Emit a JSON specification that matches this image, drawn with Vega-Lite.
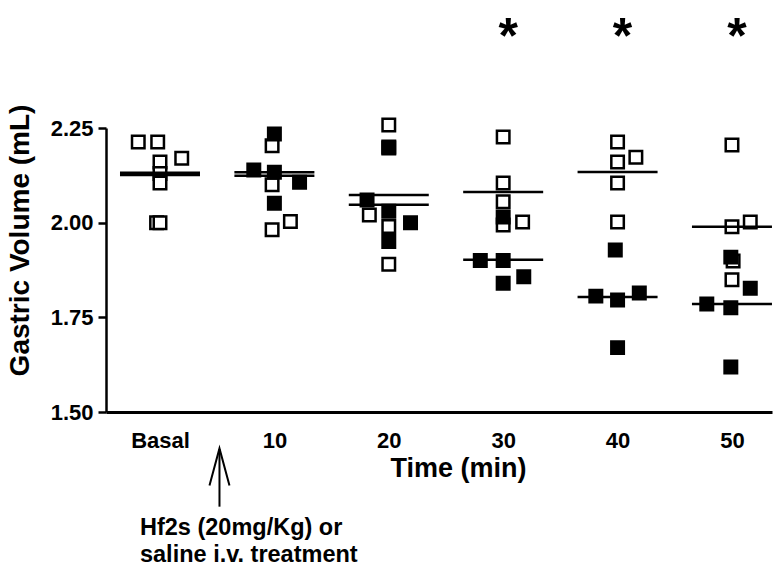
{
  "$schema": "https://vega.github.io/schema/vega-lite/v6.json",
  "width": 666,
  "height": 284,
  "autosize": {"type": "none"},
  "padding": {"left": 106, "top": 128, "right": 4, "bottom": 164},
  "background": "white",
  "config": {
    "view": {"stroke": null},
    "font": "Liberation Sans",
    "axis": {"labelFont": "Liberation Sans", "titleFont": "Liberation Sans", "labelColor": "black", "titleColor": "black", "domainColor": "black", "tickColor": "black", "grid": false}
  },
  "datasets": {
    "pts": [
      {"t": -1.9, "v": 2.213, "g": "open"},
      {"t": -0.2, "v": 2.213, "g": "open"},
      {"t": 0, "v": 2.16, "g": "open"},
      {"t": 1.9, "v": 2.17, "g": "open"},
      {"t": 0, "v": 2.13, "g": "open"},
      {"t": 0, "v": 2.105, "g": "open"},
      {"t": -0.3, "v": 2.0, "g": "open"},
      {"t": 0, "v": 2.0, "g": "open"},
      {"t": 9.8, "v": 2.203, "g": "open"},
      {"t": 9.8, "v": 2.1, "g": "open"},
      {"t": 11.4, "v": 2.003, "g": "open"},
      {"t": 9.8, "v": 1.981, "g": "open"},
      {"t": 20, "v": 2.258, "g": "open"},
      {"t": 20, "v": 2.2, "g": "open"},
      {"t": 18.3, "v": 2.02, "g": "open"},
      {"t": 20, "v": 1.99, "g": "open"},
      {"t": 20, "v": 1.89, "g": "open"},
      {"t": 30, "v": 2.226, "g": "open"},
      {"t": 30, "v": 2.105, "g": "open"},
      {"t": 30, "v": 2.055, "g": "open"},
      {"t": 31.7, "v": 2.002, "g": "open"},
      {"t": 30, "v": 1.994, "g": "open"},
      {"t": 40, "v": 2.213, "g": "open"},
      {"t": 40, "v": 2.16, "g": "open"},
      {"t": 41.6, "v": 2.173, "g": "open"},
      {"t": 40, "v": 2.105, "g": "open"},
      {"t": 40, "v": 2.002, "g": "open"},
      {"t": 50, "v": 2.205, "g": "open"},
      {"t": 50, "v": 1.989, "g": "open"},
      {"t": 51.6, "v": 2.002, "g": "open"},
      {"t": 50.1, "v": 1.899, "g": "open"},
      {"t": 50, "v": 1.849, "g": "open"},
      {"t": 10, "v": 2.234, "g": "filled"},
      {"t": 8.2, "v": 2.139, "g": "filled"},
      {"t": 10, "v": 2.133, "g": "filled"},
      {"t": 12.2, "v": 2.107, "g": "filled"},
      {"t": 10, "v": 2.051, "g": "filled"},
      {"t": 20, "v": 2.197, "g": "filled"},
      {"t": 18.1, "v": 2.06, "g": "filled"},
      {"t": 20, "v": 2.03, "g": "filled"},
      {"t": 21.9, "v": 2.0, "g": "filled"},
      {"t": 20, "v": 1.95, "g": "filled"},
      {"t": 30, "v": 2.015, "g": "filled"},
      {"t": 28.0, "v": 1.9, "g": "filled"},
      {"t": 30, "v": 1.9, "g": "filled"},
      {"t": 31.8, "v": 1.857, "g": "filled"},
      {"t": 30, "v": 1.84, "g": "filled"},
      {"t": 39.8, "v": 1.928, "g": "filled"},
      {"t": 38.1, "v": 1.806, "g": "filled"},
      {"t": 40, "v": 1.796, "g": "filled"},
      {"t": 41.9, "v": 1.814, "g": "filled"},
      {"t": 40, "v": 1.67, "g": "filled"},
      {"t": 49.9, "v": 1.909, "g": "filled"},
      {"t": 51.6, "v": 1.827, "g": "filled"},
      {"t": 47.8, "v": 1.785, "g": "filled"},
      {"t": 49.9, "v": 1.775, "g": "filled"},
      {"t": 49.9, "v": 1.619, "g": "filled"}
    ],
    "means": [
      {"t": 0, "v": 2.132, "g": "open"},
      {"t": 0, "v": 2.126, "g": "filled"},
      {"t": 10, "v": 2.124, "g": "open"},
      {"t": 10, "v": 2.133, "g": "filled"},
      {"t": 20, "v": 2.073, "g": "open"},
      {"t": 20, "v": 2.047, "g": "filled"},
      {"t": 30, "v": 2.081, "g": "open"},
      {"t": 30, "v": 1.902, "g": "filled"},
      {"t": 40, "v": 2.134, "g": "open"},
      {"t": 40, "v": 1.804, "g": "filled"},
      {"t": 50, "v": 1.989, "g": "open"},
      {"t": 50, "v": 1.785, "g": "filled"}
    ],
    "stars": [
      {"t": 30, "v": 2.447, "s": "*"},
      {"t": 40, "v": 2.447, "s": "*"},
      {"t": 50, "v": 2.447, "s": "*"}
    ],
    "note": [
      {"t": -1.75, "v": 1.175, "s": ["Hf2s (20mg/Kg) or", "saline i.v. treatment"]}
    ],
    "arrow": [
      {"t": 5.2, "v": 1.402, "v2": 1.25, "vh": 1.355}
    ]
  },
  "layer": [
    {
      "data": {"name": "pts"},
      "mark": {"type": "point", "shape": "square", "filled": true, "size": 156, "stroke": "black", "strokeWidth": 2.5, "opacity": 1},
      "encoding": {
        "x": {"field": "t", "type": "quantitative", "scale": {"domain": [-4.72, 53.5], "nice": false, "zero": false},
          "axis": {"values": [0, 10, 20, 30, 40, 50], "labelExpr": "datum.value == 0 ? 'Basal' : datum.label", "ticks": false, "labelPadding": 18, "labelFontSize": 22, "labelFontWeight": "bold", "domainWidth": 3, "title": "Time (min)", "titleFontSize": 27, "titleFontWeight": "bold", "titleX": 352, "titleY": 56, "titleBaseline": "middle", "titleAlign": "center"}},
        "y": {"field": "v", "type": "quantitative", "scale": {"domain": [1.5, 2.25], "nice": false, "zero": false},
          "axis": {"values": [1.5, 1.75, 2.0, 2.25], "format": ".2f", "tickSize": 8, "tickWidth": 2.5, "domainWidth": 2.5, "labelPadding": 5, "labelFontSize": 22, "labelFontWeight": "bold", "title": "Gastric Volume (mL)", "titleFontSize": 28, "titleFontWeight": "bold", "titlePadding": 16, "titleY": 112}},
        "fill": {"field": "g", "type": "nominal", "scale": {"domain": ["open", "filled"], "range": ["white", "black"]}, "legend": null}
      }
    },
    {
      "data": {"name": "means"},
      "mark": {"type": "point", "shape": "M -1 0 L 1 0", "filled": false, "size": 6400, "stroke": "black", "strokeWidth": 2.5, "opacity": 1},
      "encoding": {
        "x": {"field": "t", "type": "quantitative"},
        "y": {"field": "v", "type": "quantitative"}
      }
    },
    {
      "data": {"name": "stars"},
      "mark": {"type": "text", "fontSize": 50, "fontWeight": "bold", "baseline": "alphabetic", "align": "center", "dx": 5, "color": "black"},
      "encoding": {
        "x": {"field": "t", "type": "quantitative"},
        "y": {"field": "v", "type": "quantitative"},
        "text": {"field": "s"}
      }
    },
    {
      "data": {"name": "note"},
      "mark": {"type": "text", "fontSize": 23.5, "fontWeight": "bold", "baseline": "alphabetic", "align": "left", "lineHeight": 27, "color": "black"},
      "encoding": {
        "x": {"field": "t", "type": "quantitative"},
        "y": {"field": "v", "type": "quantitative"},
        "text": {"field": "s"}
      }
    },
    {
      "data": {"name": "arrow"},
      "mark": {"type": "rule", "stroke": "black", "strokeWidth": 2},
      "encoding": {
        "x": {"field": "t", "type": "quantitative"},
        "y": {"field": "v", "type": "quantitative"},
        "y2": {"field": "v2"}
      }
    },
    {
      "data": {"name": "arrow"},
      "mark": {"type": "point", "shape": "M -0.54 1 L 0 -1 L 0.54 1", "filled": false, "size": 1369, "stroke": "black", "strokeWidth": 2, "opacity": 1},
      "encoding": {
        "x": {"field": "t", "type": "quantitative"},
        "y": {"field": "vh", "type": "quantitative"}
      }
    }
  ]
}
